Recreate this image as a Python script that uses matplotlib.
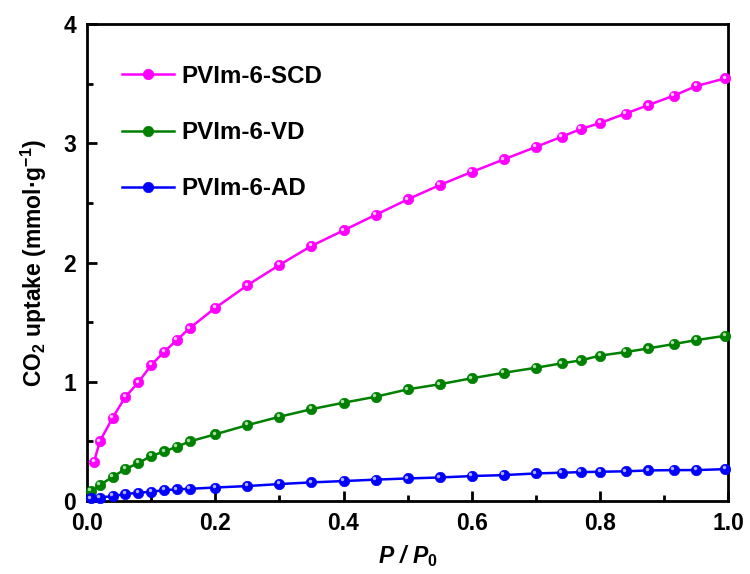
import matplotlib
matplotlib.use("Agg")
import matplotlib.pyplot as plt
import matplotlib.transforms as mtransforms
from matplotlib.ticker import MultipleLocator

# relative pressure P/P0
x_scd = [0.011, 0.02, 0.04, 0.06, 0.08, 0.10, 0.12, 0.14, 0.16, 0.20, 0.25, 0.30, 0.35, 0.40,
         0.45, 0.50, 0.55, 0.60, 0.65, 0.70, 0.74, 0.77, 0.80, 0.84, 0.875, 0.915, 0.95, 0.995]
x_other = [0.006, 0.02, 0.04, 0.06, 0.08, 0.10, 0.12, 0.14, 0.16, 0.20, 0.25, 0.30, 0.35, 0.40,
           0.45, 0.50, 0.55, 0.60, 0.65, 0.70, 0.74, 0.77, 0.80, 0.84, 0.875, 0.915, 0.95, 0.995]

# CO2 uptake (mmol/g)
scd = [0.33, 0.50, 0.70, 0.875, 0.995, 1.14, 1.25, 1.35, 1.45, 1.62, 1.81, 1.98, 2.14, 2.27,
       2.40, 2.53, 2.65, 2.76, 2.865, 2.97, 3.055, 3.12, 3.17, 3.25, 3.32, 3.40, 3.48, 3.545]
vd = [0.084, 0.134, 0.204, 0.268, 0.32, 0.377, 0.416, 0.455, 0.50, 0.56, 0.637, 0.707, 0.771, 0.825,
      0.875, 0.937, 0.98, 1.03, 1.076, 1.118, 1.155, 1.18, 1.22, 1.25, 1.28, 1.317, 1.35, 1.386]
ad = [0.022, 0.03, 0.042, 0.059, 0.07, 0.078, 0.092, 0.098, 0.103, 0.114, 0.126, 0.143, 0.157, 0.168,
      0.18, 0.19, 0.198, 0.21, 0.218, 0.232, 0.238, 0.243, 0.246, 0.25, 0.257, 0.26, 0.26, 0.268]

labels = ["PVIm-6-SCD", "PVIm-6-VD", "PVIm-6-AD"]
colors = ["#ff00ff", "#008000", "#0000ff"]
highlights = ["#ffc8ff", "#a8e0a8", "#b0b0ff"]

plt.rcParams['font.family'] = ['Liberation Sans', 'DejaVu Sans']
plt.rcParams['font.weight'] = 'bold'
plt.rcParams['mathtext.fontset'] = 'custom'
plt.rcParams['mathtext.rm'] = 'Liberation Sans:bold'
plt.rcParams['mathtext.it'] = 'Liberation Sans:bold:italic'
plt.rcParams['mathtext.default'] = 'rm'

fig = plt.figure(figsize=(7.5, 5.74), dpi=100)
ax = fig.add_axes([0.116, 0.127, 0.855, 0.831])

series = [(x_scd, scd), (x_other, vd), (x_other, ad)]
hl_offset = mtransforms.offset_copy(ax.transData, fig=fig, x=-1.0, y=1.2, units='points')
for (xs, ys), lab, c, h in zip(series, labels, colors, highlights):
    ax.plot(xs, ys, '-o', color=c, lw=1.8, ms=7.5, mfc=c, mec=c, mew=0.5, label=lab, clip_on=False, zorder=3)
    ax.plot(xs, ys, 'o', color=h, ms=2.5, mew=0, transform=hl_offset, clip_on=False, zorder=4)

ax.set_xlim(0, 1.0)
ax.set_ylim(0, 4)
ax.xaxis.set_minor_locator(MultipleLocator(0.1))
ax.yaxis.set_minor_locator(MultipleLocator(0.5))
ax.set_xticks([0, 0.2, 0.4, 0.6, 0.8, 1.0])
ax.set_xticklabels(["0.0", "0.2", "0.4", "0.6", "0.8", "1.0"], fontweight='bold')
ax.set_yticks([0, 1, 2, 3, 4])
ax.set_yticklabels(["0", "1", "2", "3", "4"], fontweight='bold')
ax.tick_params(which='major', direction='in', length=7, width=2, labelsize=16.5, pad=8)
ax.tick_params(which='minor', direction='in', length=4, width=2)
for s in ax.spines.values():
    s.set_linewidth(2)

ax.set_xlabel(r"$\mathit{P}$ / $\mathit{P}_\mathit{0}$", fontsize=16.5, fontweight='bold',
              style='italic', labelpad=6)
ax.set_ylabel(r"CO$_2$ uptake (mmol·g$^{-1}$)", fontsize=16.5, fontweight='bold', labelpad=10)

leg = ax.legend(loc='upper left', bbox_to_anchor=(0.04, 0.935), frameon=False,
                prop={'size': 17.4, 'weight': 'bold'},
                labelspacing=1.38, handlelength=2.15, handletextpad=0.3, borderaxespad=0)

fig.savefig("out.png", dpi=100)
